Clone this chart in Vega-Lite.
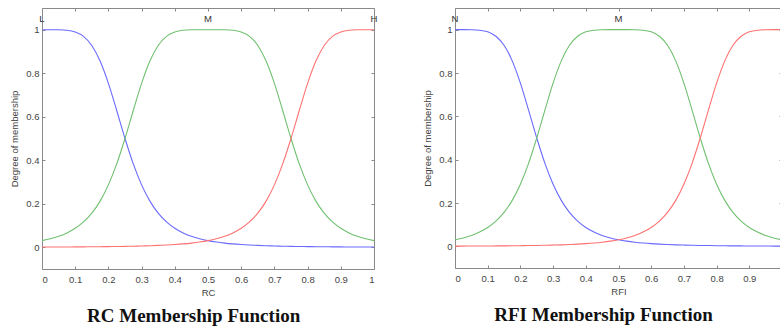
{
  "$schema": "https://vega.github.io/schema/vega-lite/v6.json",
  "background": "white",
  "padding": {"left": 9, "top": 7, "right": 0, "bottom": 0},
  "spacing": 44,
  "config": {
    "view": {"stroke": null},
    "font": "Liberation Sans",
    "axis": {
      "grid": false,
      "domainColor": "#8a8a8a",
      "tickColor": "#8a8a8a",
      "tickSize": -3,
      "labelColor": "#444",
      "labelFontSize": 9.5,
      "titleColor": "#444",
      "titleFontSize": 9.5,
      "titleFontWeight": "normal"
    }
  },
  "datasets": {
    "curves": [
      {"x": 0, "y": 1, "mf": "L"}, {"x": 0.025, "y": 1.0, "mf": "L"}, {"x": 0.05, "y": 0.9997, "mf": "L"}, {"x": 0.075, "y": 0.9976, "mf": "L"}, {"x": 0.1, "y": 0.9899, "mf": "L"}, {"x": 0.125, "y": 0.9697, "mf": "L"}, {"x": 0.15, "y": 0.9279, "mf": "L"}, {"x": 0.175, "y": 0.8561, "mf": "L"}, {"x": 0.2, "y": 0.7532, "mf": "L"}, {"x": 0.225, "y": 0.6287, "mf": "L"}, {"x": 0.25, "y": 0.5, "mf": "L"}, {"x": 0.275, "y": 0.3831, "mf": "L"}, {"x": 0.3, "y": 0.2867, "mf": "L"}, {"x": 0.325, "y": 0.2122, "mf": "L"}, {"x": 0.35, "y": 0.1568, "mf": "L"}, {"x": 0.375, "y": 0.1164, "mf": "L"}, {"x": 0.4, "y": 0.0871, "mf": "L"}, {"x": 0.425, "y": 0.0658, "mf": "L"}, {"x": 0.45, "y": 0.0503, "mf": "L"}, {"x": 0.475, "y": 0.0388, "mf": "L"}, {"x": 0.5, "y": 0.0303, "mf": "L"}, {"x": 0.525, "y": 0.0239, "mf": "L"}, {"x": 0.55, "y": 0.019, "mf": "L"}, {"x": 0.575, "y": 0.0153, "mf": "L"}, {"x": 0.6, "y": 0.0124, "mf": "L"}, {"x": 0.625, "y": 0.0101, "mf": "L"}, {"x": 0.65, "y": 0.0084, "mf": "L"}, {"x": 0.675, "y": 0.0069, "mf": "L"}, {"x": 0.7, "y": 0.0058, "mf": "L"}, {"x": 0.725, "y": 0.0049, "mf": "L"}, {"x": 0.75, "y": 0.0041, "mf": "L"}, {"x": 0.775, "y": 0.0035, "mf": "L"}, {"x": 0.8, "y": 0.003, "mf": "L"}, {"x": 0.825, "y": 0.0025, "mf": "L"}, {"x": 0.85, "y": 0.0022, "mf": "L"}, {"x": 0.875, "y": 0.0019, "mf": "L"}, {"x": 0.9, "y": 0.0016, "mf": "L"}, {"x": 0.925, "y": 0.0014, "mf": "L"}, {"x": 0.95, "y": 0.0013, "mf": "L"}, {"x": 0.975, "y": 0.0011, "mf": "L"}, {"x": 1, "y": 0.001, "mf": "L"},
      {"x": 0, "y": 0.0303, "mf": "M"}, {"x": 0.025, "y": 0.0388, "mf": "M"}, {"x": 0.05, "y": 0.0503, "mf": "M"}, {"x": 0.075, "y": 0.0658, "mf": "M"}, {"x": 0.1, "y": 0.0871, "mf": "M"}, {"x": 0.125, "y": 0.1164, "mf": "M"}, {"x": 0.15, "y": 0.1568, "mf": "M"}, {"x": 0.175, "y": 0.2122, "mf": "M"}, {"x": 0.2, "y": 0.2867, "mf": "M"}, {"x": 0.225, "y": 0.3831, "mf": "M"}, {"x": 0.25, "y": 0.5, "mf": "M"}, {"x": 0.275, "y": 0.6287, "mf": "M"}, {"x": 0.3, "y": 0.7532, "mf": "M"}, {"x": 0.325, "y": 0.8561, "mf": "M"}, {"x": 0.35, "y": 0.9279, "mf": "M"}, {"x": 0.375, "y": 0.9697, "mf": "M"}, {"x": 0.4, "y": 0.9899, "mf": "M"}, {"x": 0.425, "y": 0.9976, "mf": "M"}, {"x": 0.45, "y": 0.9997, "mf": "M"}, {"x": 0.475, "y": 1.0, "mf": "M"}, {"x": 0.5, "y": 1, "mf": "M"}, {"x": 0.525, "y": 1.0, "mf": "M"}, {"x": 0.55, "y": 0.9997, "mf": "M"}, {"x": 0.575, "y": 0.9976, "mf": "M"}, {"x": 0.6, "y": 0.9899, "mf": "M"}, {"x": 0.625, "y": 0.9697, "mf": "M"}, {"x": 0.65, "y": 0.9279, "mf": "M"}, {"x": 0.675, "y": 0.8561, "mf": "M"}, {"x": 0.7, "y": 0.7532, "mf": "M"}, {"x": 0.725, "y": 0.6287, "mf": "M"}, {"x": 0.75, "y": 0.5, "mf": "M"}, {"x": 0.775, "y": 0.3831, "mf": "M"}, {"x": 0.8, "y": 0.2867, "mf": "M"}, {"x": 0.825, "y": 0.2122, "mf": "M"}, {"x": 0.85, "y": 0.1568, "mf": "M"}, {"x": 0.875, "y": 0.1164, "mf": "M"}, {"x": 0.9, "y": 0.0871, "mf": "M"}, {"x": 0.925, "y": 0.0658, "mf": "M"}, {"x": 0.95, "y": 0.0503, "mf": "M"}, {"x": 0.975, "y": 0.0388, "mf": "M"}, {"x": 1, "y": 0.0303, "mf": "M"},
      {"x": 0, "y": 0.001, "mf": "H"}, {"x": 0.025, "y": 0.0011, "mf": "H"}, {"x": 0.05, "y": 0.0013, "mf": "H"}, {"x": 0.075, "y": 0.0014, "mf": "H"}, {"x": 0.1, "y": 0.0016, "mf": "H"}, {"x": 0.125, "y": 0.0019, "mf": "H"}, {"x": 0.15, "y": 0.0022, "mf": "H"}, {"x": 0.175, "y": 0.0025, "mf": "H"}, {"x": 0.2, "y": 0.003, "mf": "H"}, {"x": 0.225, "y": 0.0035, "mf": "H"}, {"x": 0.25, "y": 0.0041, "mf": "H"}, {"x": 0.275, "y": 0.0049, "mf": "H"}, {"x": 0.3, "y": 0.0058, "mf": "H"}, {"x": 0.325, "y": 0.0069, "mf": "H"}, {"x": 0.35, "y": 0.0084, "mf": "H"}, {"x": 0.375, "y": 0.0101, "mf": "H"}, {"x": 0.4, "y": 0.0124, "mf": "H"}, {"x": 0.425, "y": 0.0153, "mf": "H"}, {"x": 0.45, "y": 0.019, "mf": "H"}, {"x": 0.475, "y": 0.0239, "mf": "H"}, {"x": 0.5, "y": 0.0303, "mf": "H"}, {"x": 0.525, "y": 0.0388, "mf": "H"}, {"x": 0.55, "y": 0.0503, "mf": "H"}, {"x": 0.575, "y": 0.0658, "mf": "H"}, {"x": 0.6, "y": 0.0871, "mf": "H"}, {"x": 0.625, "y": 0.1164, "mf": "H"}, {"x": 0.65, "y": 0.1568, "mf": "H"}, {"x": 0.675, "y": 0.2122, "mf": "H"}, {"x": 0.7, "y": 0.2867, "mf": "H"}, {"x": 0.725, "y": 0.3831, "mf": "H"}, {"x": 0.75, "y": 0.5, "mf": "H"}, {"x": 0.775, "y": 0.6287, "mf": "H"}, {"x": 0.8, "y": 0.7532, "mf": "H"}, {"x": 0.825, "y": 0.8561, "mf": "H"}, {"x": 0.85, "y": 0.9279, "mf": "H"}, {"x": 0.875, "y": 0.9697, "mf": "H"}, {"x": 0.9, "y": 0.9899, "mf": "H"}, {"x": 0.925, "y": 0.9976, "mf": "H"}, {"x": 0.95, "y": 0.9997, "mf": "H"}, {"x": 0.975, "y": 1.0, "mf": "H"}, {"x": 1, "y": 1, "mf": "H"}
    ],
    "names1": [{"x": 0, "y": 1.05, "t": "L"}, {"x": 0.5, "y": 1.05, "t": "M"}, {"x": 1, "y": 1.05, "t": "H"}],
    "names2": [{"x": 0, "y": 1.05, "t": "N"}, {"x": 0.5, "y": 1.05, "t": "M"}]
  },
  "hconcat": [
    {
      "width": 332,
      "height": 261,
      "title": {"text": "RC Membership Function", "orient": "bottom", "frame": "bounds", "anchor": "middle", "font": "Liberation Serif", "fontSize": 19, "fontWeight": "bold", "color": "#111", "offset": 10},
      "layer": [
        {
          "data": {"name": "curves"},
          "mark": {"type": "line", "strokeWidth": 1.1, "interpolate": "monotone"},
          "encoding": {
            "x": {"field": "x", "type": "quantitative", "scale": {"domain": [0, 1], "nice": false},
                  "axis": {"orient": "bottom", "title": "RC", "values": [0, 0.1, 0.2, 0.3, 0.4, 0.5, 0.6, 0.7, 0.8, 0.9, 1], "format": "~g", "labelPadding": 8, "titlePadding": 4}},
            "y": {"field": "y", "type": "quantitative", "scale": {"domain": [-0.1, 1.1], "nice": false},
                  "axis": {"orient": "left", "title": "Degree of membership", "values": [0, 0.2, 0.4, 0.6, 0.8, 1], "format": "~g", "labelPadding": 6, "titlePadding": 6}},
            "color": {"field": "mf", "type": "nominal", "scale": {"domain": ["L", "M", "H"], "range": ["#6a6aff", "#70c070", "#ff7272"]}, "legend": null}
          }
        },
        {
          "data": {"name": "names1"},
          "mark": {"type": "text", "fontSize": 9.5, "fill": "#333", "baseline": "middle"},
          "encoding": {
            "x": {"field": "x", "type": "quantitative", "scale": {"domain": [0, 1], "nice": false},
                  "axis": {"orient": "top", "title": null, "labels": false, "values": [0, 0.1, 0.2, 0.3, 0.4, 0.5, 0.6, 0.7, 0.8, 0.9, 1]}},
            "y": {"field": "y", "type": "quantitative", "scale": {"domain": [-0.1, 1.1], "nice": false},
                  "axis": {"orient": "right", "title": null, "labels": false, "values": [0, 0.2, 0.4, 0.6, 0.8, 1]}},
            "text": {"field": "t"}
          }
        }
      ],
      "resolve": {"axis": {"x": "independent", "y": "independent"}}
    },
    {
      "width": 327,
      "height": 260,
      "title": {"text": "RFI Membership Function", "orient": "bottom", "frame": "bounds", "anchor": "middle", "font": "Liberation Serif", "fontSize": 19, "fontWeight": "bold", "color": "#111", "offset": 10},
      "layer": [
        {
          "data": {"name": "curves"},
          "mark": {"type": "line", "strokeWidth": 1.1, "interpolate": "monotone"},
          "encoding": {
            "x": {"field": "x", "type": "quantitative", "scale": {"domain": [0, 1], "nice": false},
                  "axis": {"orient": "bottom", "title": "RFI", "values": [0, 0.1, 0.2, 0.3, 0.4, 0.5, 0.6, 0.7, 0.8, 0.9], "format": "~g", "labelPadding": 8, "titlePadding": 4}},
            "y": {"field": "y", "type": "quantitative", "scale": {"domain": [-0.1, 1.1], "nice": false},
                  "axis": {"orient": "left", "title": "Degree of membership", "values": [0, 0.2, 0.4, 0.6, 0.8, 1], "format": "~g", "labelPadding": 6, "titlePadding": 6}},
            "color": {"field": "mf", "type": "nominal", "scale": {"domain": ["L", "M", "H"], "range": ["#6a6aff", "#70c070", "#ff7272"]}, "legend": null}
          }
        },
        {
          "data": {"name": "names2"},
          "mark": {"type": "text", "fontSize": 9.5, "fill": "#333", "baseline": "middle"},
          "encoding": {
            "x": {"field": "x", "type": "quantitative", "scale": {"domain": [0, 1], "nice": false},
                  "axis": {"orient": "top", "title": null, "labels": false, "values": [0, 0.1, 0.2, 0.3, 0.4, 0.5, 0.6, 0.7, 0.8, 0.9, 1]}},
            "y": {"field": "y", "type": "quantitative", "scale": {"domain": [-0.1, 1.1], "nice": false},
                  "axis": {"orient": "right", "title": null, "labels": false, "values": [0, 0.2, 0.4, 0.6, 0.8, 1]}},
            "text": {"field": "t"}
          }
        }
      ],
      "resolve": {"axis": {"x": "independent", "y": "independent"}}
    }
  ]
}
